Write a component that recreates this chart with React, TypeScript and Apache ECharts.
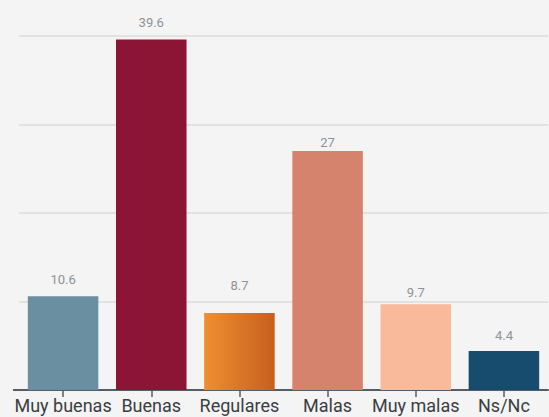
import React, { useEffect, useRef } from "react";
import * as echarts from "echarts";

const categories = ["Muy buenas", "Buenas", "Regulares", "Malas", "Muy malas", "Ns/Nc"];
const values = [10.6, 39.6, 8.7, 27, 9.7, 4.4];
const valueLabels = ["10.6", "39.6", "8.7", "27", "9.7", "4.4"];

// styling (not data)
const barColors: any[] = [
  "#6a8fa1",
  "#8c1535",
  new echarts.graphic.LinearGradient(0, 0, 1, 0, [
    { offset: 0, color: "#ef8f2f" },
    { offset: 1, color: "#c65f1f" },
  ]),
  "#d5836d",
  "#f9b99b",
  "#184c6e",
];
const labelGaps = [10, 11, 21, 2, 5, 9];

export default function App() {
  const ref = useRef<HTMLDivElement>(null);
  useEffect(() => {
    if (!ref.current) return;
    const chart = echarts.init(ref.current, undefined, { renderer: "svg" });
    chart.setOption({
      animation: false,
      backgroundColor: "#f4f4f4",
      grid: { left: 19, right: 1, top: 36, bottom: 27, containLabel: false },
      xAxis: {
        type: "category",
        data: categories,
        axisLine: { show: true, lineStyle: { color: "#555c66", width: 2 } },
        axisTick: { show: true, alignWithLabel: true, length: 7, lineStyle: { color: "#555c66", width: 1.5 } },
        axisLabel: {
          margin: 6,
          color: "#3a3d42",
          fontSize: 18,
          fontFamily: "Roboto, sans-serif",
          interval: 0,
        },
      },
      yAxis: {
        type: "value",
        min: 0,
        max: 40,
        interval: 10,
        axisLabel: { show: false },
        axisLine: { show: false },
        axisTick: { show: false },
        splitLine: { show: true, lineStyle: { color: "#dcdcdc", width: 1.5 } },
      },
      graphic: [
        {
          type: "line",
          shape: { x1: 13, y1: 390, x2: 20, y2: 390 },
          style: { stroke: "#555c66", lineWidth: 2 },
          z: 10,
        },
      ],
      series: [
        {
          type: "bar",
          barWidth: "80%",
          data: values.map((v, i) => ({
            value: v,
            itemStyle: { color: barColors[i] },
            label: {
              show: true,
              position: "top",
              distance: labelGaps[i],
              formatter: valueLabels[i],
              color: "#8d9297",
              fontSize: 13,
              fontFamily: "Roboto, sans-serif",
            },
          })),
        },
      ],
    });
    return () => chart.dispose();
  }, []);
  return (
    <div
      ref={ref}
      style={{ position: "fixed", left: 0, top: 0, width: 549, height: 417 }}
    />
  );
}
